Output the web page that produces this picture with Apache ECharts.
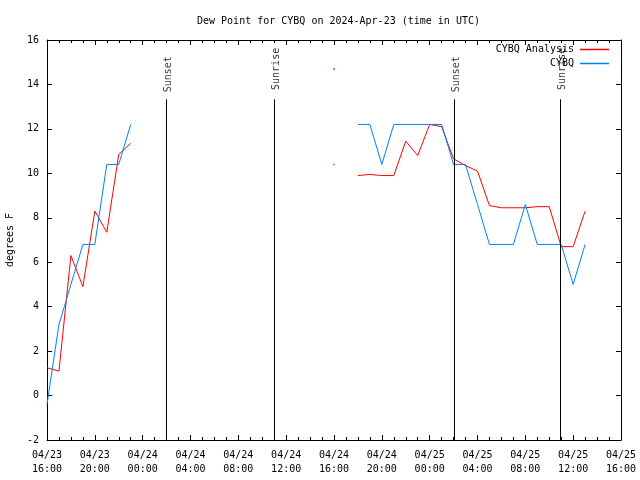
<!DOCTYPE html>
<html><head><meta charset="utf-8">
<script src="https://cdn.jsdelivr.net/npm/echarts@6/dist/echarts.min.js"></script>
<style>html,body{margin:0;padding:0;background:#fff}#c{width:640px;height:480px}</style>
</head><body><div id="c"></div>
<script>
// hours since 2024-04-23 16:00 UTC
const hours = [0,1,2,3,4,5,6,7,8,9,10,11,12,13,14,15,16,17,18,19,20,21,22,23,24,25,26,27,28,29,30,31,32,33,34,35,36,37,38,39,40,41,42,43,44,45];
const analysis = [1.25,1.1,6.3,4.9,8.3,7.35,10.85,11.35,
  null,null,null,null,null,null,null,null,null,null,null,null,null,null,null,null,
  14.7,null,
  9.9,9.95,9.9,9.9,11.45,10.8,12.2,12.1,10.65,10.35,10.1,8.55,8.45,8.45,8.45,8.5,8.5,6.7,6.7,8.3];
const observed = [-0.4,3.2,5.0,6.8,6.8,10.4,10.4,12.2,
  null,null,null,null,null,null,null,null,null,null,null,null,null,null,null,null,
  10.4,null,
  12.2,12.2,10.4,12.2,12.2,12.2,12.2,12.2,10.4,10.4,8.6,6.8,6.8,6.8,8.6,6.8,6.8,6.8,5.0,6.8];
const xTickLabels = ['04/23\n16:00','04/23\n20:00','04/24\n00:00','04/24\n04:00','04/24\n08:00','04/24\n12:00','04/24\n16:00','04/24\n20:00','04/25\n00:00','04/25\n04:00','04/25\n08:00','04/25\n12:00','04/25\n16:00'];
const sunTimes = [9.97, 18.98, 34.03, 42.95];
const sunNames = ['Sunset','Sunrise','Sunset','Sunrise'];
const sunLineTop = 13.33;
const sunLabelY = [14.46, 14.7, 14.46, 14.7];

const FONT = 'DejaVu Sans Mono';
function mkData(vals){
  return hours.map((h,i)=>{
    const v = vals[i];
    const prev = i>0 ? vals[i-1] : null, next = i<vals.length-1 ? vals[i+1] : null;
    if (v!==null && prev===null && next===null) return {value:[h,v], symbol:'rect', symbolSize:1.5};
    return [h, v];
  });
}
const chart = echarts.init(document.getElementById('c'), null, {renderer:'canvas'});
const axisLine = {show:true, onZero:false, lineStyle:{color:'#000', width:1}};
const xCommon = {type:'value', min:0, max:48, interval:4, axisLine,
  axisTick:{show:true, inside:true, length:5, lineStyle:{color:'#000'}},
  minorTick:{show:true, splitNumber:4, length:3, lineStyle:{color:'#000'}},
  splitLine:{show:false}, minorSplitLine:{show:false}};
const yCommon = {type:'value', min:-2, max:16, interval:2, axisLine,
  axisTick:{show:true, inside:true, length:5, lineStyle:{color:'#000'}},
  splitLine:{show:false}};
chart.setOption({
  animation:false,
  backgroundColor:'#fff',
  title:{text:'Dew Point for CYBQ on 2024-Apr-23 (time in UTC)', left:192, top:11,
    textStyle:{fontFamily:FONT, fontSize:10, fontWeight:'normal', color:'#000'}},
  legend:{data:['CYBQ Analysis','CYBQ'], orient:'vertical', align:'right', right:26, top:38,
    icon:'rect', itemWidth:29, itemHeight:1.5, itemGap:1,
    textStyle:{fontFamily:FONT, fontSize:10, color:'#000', lineHeight:13, padding:[0,1,0,0]}},
  grid:{left:47, right:19, top:40, bottom:40, outerBoundsMode:'none', containLabel:false},
  xAxis:[
    Object.assign({}, xCommon, {position:'bottom',
      axisLabel:{show:true, margin:8, fontFamily:FONT, fontSize:10, color:'#000', lineHeight:14,
        formatter:(v)=>xTickLabels[Math.round(v/4)]}}),
    Object.assign({}, xCommon, {position:'top', axisLabel:{show:false}})
  ],
  yAxis:[
    Object.assign({}, yCommon, {position:'left', name:'degrees F', nameLocation:'middle', nameGap:32,
      nameTextStyle:{fontFamily:FONT, fontSize:10, color:'#000'},
      axisLabel:{show:true, margin:8, fontFamily:FONT, fontSize:10, color:'#000'}}),
    Object.assign({}, yCommon, {position:'right', axisLabel:{show:false}})
  ],
  series:[
    {name:'CYBQ Analysis', type:'line', data:mkData(analysis), symbol:'none', showSymbol:true,
      showAllSymbol:true, connectNulls:false, color:'#ff0000', lineStyle:{width:1, color:'#ff0000'},
      itemStyle:{color:'#ff0000'}, z:3},
    {name:'CYBQ', type:'line', data:mkData(observed), symbol:'none', showSymbol:true,
      showAllSymbol:true, connectNulls:false, color:'#0080ff', lineStyle:{width:1, color:'#0080ff'},
      itemStyle:{color:'#0080ff'}, z:4},
    {name:'sun', type:'line', data:[], silent:true,
      markLine:{symbol:'none', silent:true, label:{show:false},
        lineStyle:{color:'#000', width:1, type:'solid'},
        data: sunTimes.map(t=>[{coord:[t, sunLineTop]},{coord:[t, -2]}])}},
    {name:'sunLabels', type:'scatter', symbolSize:0, silent:true,
      data: sunTimes.map((t,i)=>({name:sunNames[i], value:[t, sunLabelY[i]]})),
      label:{show:true, formatter:'{b}', rotate:90, position:'inside', offset:[0,2],
        fontFamily:FONT, fontSize:10, color:'#000'}}
  ]
});
</script></body></html>
